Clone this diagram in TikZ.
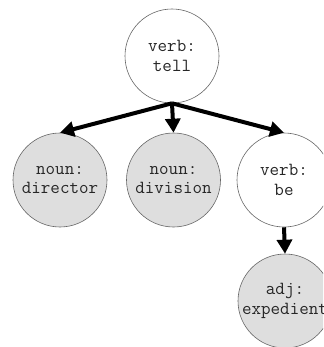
\documentclass[tikz,border=0pt]{standalone}
\usepackage{fontspec}
\usetikzlibrary{arrows.meta}
\begin{document}
\begin{tikzpicture}[x=1pt,y=1pt,
  word/.style={circle,draw=black!60,line width=0.6pt,minimum size=94pt,inner sep=0pt,
    align=center,font=\fontsize{18.5}{19.5}\selectfont\ttfamily,text=black!85},
  plain/.style={word,fill=white},
  shaded/.style={word,fill=black!13},
  link/.style={line width=4pt,-{Triangle[length=14pt,width=15pt]}}]
\useasboundingbox (0,0) rectangle (323,-347);
\clip (0,0) rectangle (323,-347);
\fill[white] (0,0) rectangle (323,-347);
\node[plain] (tell) at (172,-56) {verb:\\tell};
\node[shaded] (director) at (60,-180) {noun:\\director};
\node[shaded] (division) at (173.5,-180) {noun:\\division};
\node[plain] (be) at (284,-180) {verb:\\be};
\node[shaded] (adj) at (285,-301) {adj:\\expedient};
\coordinate (hub) at (tell.south);
\draw[link] (hub) -- (director.north);
\draw[link] (hub) -- (division.north);
\draw[link] (hub) -- (be.north);
\draw[link] (be.south) -- (adj.north);
\end{tikzpicture}
\end{document}
